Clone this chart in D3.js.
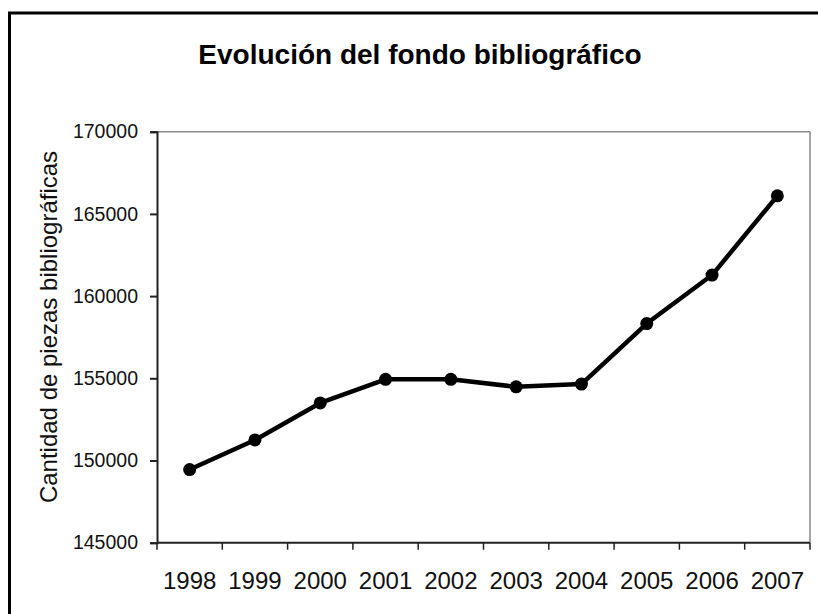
<!DOCTYPE html>
<html>
<head>
<meta charset="utf-8">
<script src="https://cdn.jsdelivr.net/npm/d3@7"></script>
<style>
  body { margin: 0; background: #fff; }
  svg { display: block; font-family: "Liberation Sans", Arial, sans-serif; }
</style>
</head>
<body>
<svg id="chart" width="818" height="614"></svg>
<script>
var years = ["1998", "1999", "2000", "2001", "2002", "2003", "2004", "2005", "2006", "2007"];
var piezas = [149450, 151250, 153500, 154940, 154940, 154480, 154650, 158330, 161280, 166100];
var yTicks = [145000, 150000, 155000, 160000, 165000, 170000];

(function(){
  var plotLeft = 157, plotRight = 810, plotTop = 131.7, plotBottom = 542.7;

  var svg = d3.select("#chart");

  // outer frame, runs off the right and bottom edges
  svg.append("rect")
    .attr("x", 9.5).attr("y", 13)
    .attr("width", 900).attr("height", 700)
    .attr("fill", "#fff")
    .attr("stroke", "#000")
    .attr("stroke-width", 3);

  svg.append("text")
    .attr("x", 420).attr("y", 64)
    .attr("text-anchor", "middle")
    .attr("fill", "#000")
    .style("font-size", "28px")
    .style("font-weight", "bold")
    .text("Evolución del fondo bibliográfico");

  var x = d3.scaleBand().domain(years).range([plotLeft, plotRight]);
  var y = d3.scaleLinear().domain([145000, 170000]).range([plotBottom, plotTop]);

  // plot border (top and right in gray)
  svg.append("line")
    .attr("x1", plotLeft).attr("x2", plotRight)
    .attr("y1", y(170000)).attr("y2", y(170000))
    .attr("stroke", "#888").attr("stroke-width", 1.5);
  svg.append("line")
    .attr("x1", plotRight).attr("x2", plotRight)
    .attr("y1", plotTop).attr("y2", plotBottom)
    .attr("stroke", "#888").attr("stroke-width", 1.5);

  // y axis
  var yaxis = d3.axisLeft(y).tickValues(yTicks).tickSize(7).tickPadding(12).tickFormat(d3.format("d"));
  var gy = svg.append("g")
    .attr("transform", "translate(" + plotLeft + ",0)")
    .call(yaxis);
  gy.select(".domain").attr("stroke", "#222").attr("stroke-width", 2);
  gy.selectAll(".tick line").attr("stroke", "#222").attr("stroke-width", 2);
  gy.selectAll(".tick text")
    .attr("fill", "#111")
    .style("font-size", "19.5px")
    .style("font-family", "Liberation Sans, Arial, sans-serif");

  // x axis: ticks at category boundaries
  var gx = svg.append("g")
    .attr("transform", "translate(0," + plotBottom + ")");
  gx.append("line")
    .attr("x1", plotLeft).attr("x2", plotRight)
    .attr("y1", 0).attr("y2", 0)
    .attr("stroke", "#222").attr("stroke-width", 2);
  var bounds = years.map(function(d){ return x(d); }).concat([plotRight]);
  gx.selectAll("line.xtick")
    .data(bounds)
    .enter().append("line")
      .attr("class", "xtick")
      .attr("x1", function(d){ return d; })
      .attr("x2", function(d){ return d; })
      .attr("y1", 0).attr("y2", 7)
      .attr("stroke", "#222").attr("stroke-width", 1.5);
  gx.selectAll("text.xlab")
    .data(years)
    .enter().append("text")
      .attr("class", "xlab")
      .attr("x", function(d){ return x(d) + x.bandwidth() / 2; })
      .attr("y", 46)
      .attr("text-anchor", "middle")
      .attr("fill", "#111")
      .style("font-size", "24px")
      .text(function(d){ return d; });

  // y axis title
  svg.append("text")
    .attr("transform", "translate(57,327) rotate(-90)")
    .attr("text-anchor", "middle")
    .attr("fill", "#111")
    .style("font-size", "24px")
    .text("Cantidad de piezas bibliográficas");

  // the line
  var line = d3.line()
    .x(function(d, i){ return x(years[i]) + x.bandwidth() / 2; })
    .y(function(d){ return y(d); });

  svg.append("path")
    .datum(piezas)
    .attr("d", line)
    .attr("fill", "none")
    .attr("stroke", "#000")
    .attr("stroke-width", 4.5)
    .attr("stroke-linejoin", "round");

  svg.selectAll("circle.pt")
    .data(piezas)
    .enter().append("circle")
      .attr("class", "pt")
      .attr("cx", function(d, i){ return x(years[i]) + x.bandwidth() / 2; })
      .attr("cy", function(d){ return y(d); })
      .attr("r", 6.5)
      .attr("fill", "#000");
})();
</script>
</body>
</html>
